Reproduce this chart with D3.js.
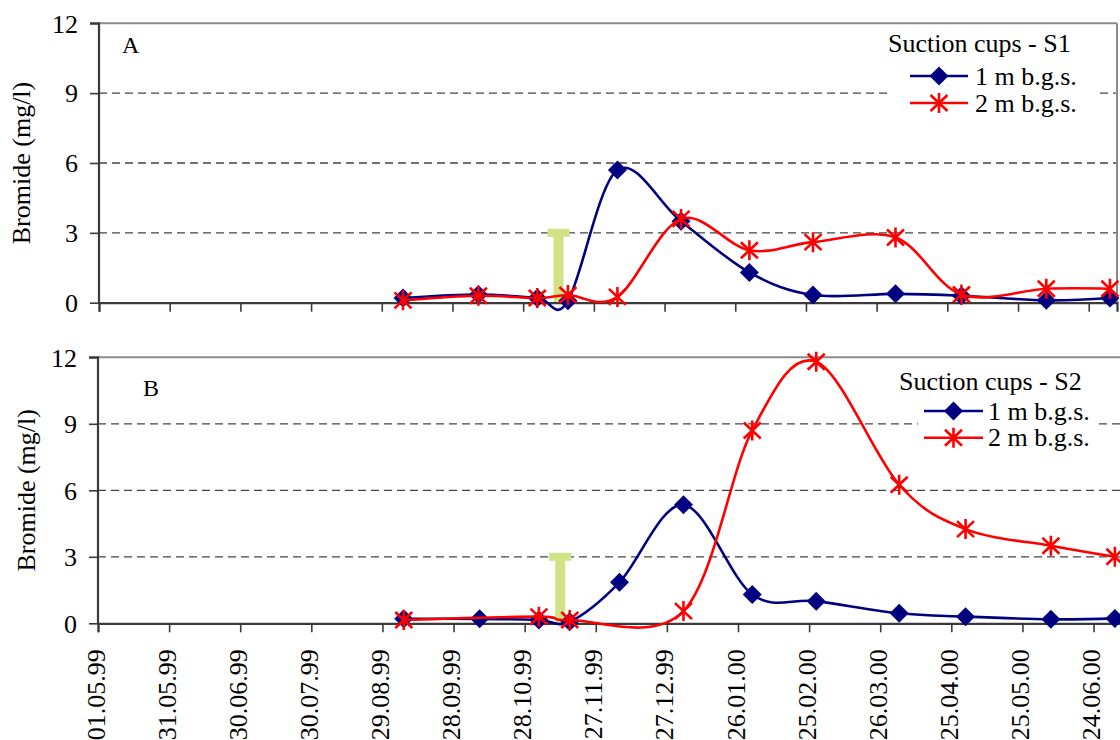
<!DOCTYPE html>
<html>
<head>
<meta charset="utf-8">
<script src="https://cdn.jsdelivr.net/npm/d3@7/dist/d3.min.js"></script>
<style>
  html, body { margin: 0; padding: 0; background: #fff; }
  svg { display: block; }
  svg text { font-family: "Liberation Serif", "Times New Roman", serif; fill: #000; }
</style>
</head>
<body>
<svg id="chart" width="1120" height="740"></svg>
<script>
// Sampling campaign dates (dd.mm.yy) shared by both suction-cup stations
const sampleDates = ["07.09.99", "09.10.99", "03.11.99", "16.11.99", "07.12.99", "03.01.00",
                     "01.02.00", "28.02.00", "03.04.00", "01.05.00", "06.06.00", "03.07.00"];

// Station S1 bromide concentrations (mg/l)
const s1Depth1m = [0.2, 0.35, 0.2, 0.08, 5.7, 3.5, 1.3, 0.33, 0.38, 0.3, 0.1, 0.2];
const s1Depth2m = [0.1, 0.3, 0.2, 0.33, 0.25, 3.6, 2.25, 2.6, 2.8, 0.35, 0.6, 0.6];

// Station S2 bromide concentrations (mg/l); null = no sample taken
const s2Depth1m = [0.2, 0.2, 0.15, 0.07, 1.85, 5.35, 1.3, 1.0, 0.45, 0.3, 0.18, 0.22];
const s2Depth2m = [0.15, null, 0.3, 0.15, null, 0.55, 8.7, 11.8, 6.25, 4.25, 3.5, 3.0];

// Tracer application: date and marker height (mg/l)
const applicationDate = "12.11.99";
const applicationHeight = 3;

// Axis ticks
const xTickLabels = ["01.05.99", "31.05.99", "30.06.99", "30.07.99", "29.08.99", "28.09.99",
                     "28.10.99", "27.11.99", "27.12.99", "26.01.00", "25.02.00", "26.03.00",
                     "25.04.00", "25.05.00", "24.06.00"];
const yTickValues = [0, 3, 6, 9, 12];
const seriesNames = ["1 m b.g.s.", "2 m b.g.s."];

const parse = d3.utcParse("%d.%m.%y");
const fmt = d3.utcFormat("%d.%m.%y");
const domainStart = parse(xTickLabels[0]);
const domainEnd = d3.utcDay.offset(domainStart, 432);

const BLUE = "#000080", RED = "#ff0000", GREEN = "#cfe384";
const svg = d3.select("#chart");

function drawMarker(g, kind, color) {
  if (kind === "diamond") {
    const r = 9.5;
    g.append("path").attr("d", `M0,${-r}L${r},0L0,${r}L${-r},0Z`).attr("fill", color);
  } else {
    g.append("path")
      .attr("d", "M0,-10V10M-8.5,-8L8.5,8M-8.5,8L8.5,-8")
      .attr("stroke", color).attr("stroke-width", 2.6).attr("fill", "none");
  }
}

function drawPanel(cfg) {
  const g = svg.append("g");
  const x = d3.scaleUtc().domain([domainStart, domainEnd]).range([cfg.left, cfg.right]);
  const y = d3.scaleLinear().domain([0, 12]).range([cfg.bottom, cfg.top]);

  // dashed gridlines
  g.append("g").selectAll("line").data([3, 6, 9]).join("line")
    .attr("x1", cfg.left).attr("x2", cfg.right)
    .attr("y1", d => y(d)).attr("y2", d => y(d))
    .attr("stroke", "#444").attr("stroke-width", 1.3).attr("stroke-dasharray", "8,5");

  // plot-area frame (top and right)
  g.append("line").attr("x1", cfg.left).attr("x2", cfg.right)
    .attr("y1", y(12)).attr("y2", y(12)).attr("stroke", "#8a8a8a").attr("stroke-width", 2);
  g.append("line").attr("x1", cfg.right).attr("x2", cfg.right)
    .attr("y1", y(12)).attr("y2", y(0)).attr("stroke", "#8a8a8a").attr("stroke-width", 2);

  // tracer application marker
  const ax = x(parse(applicationDate));
  g.append("rect").attr("x", ax - 5).attr("width", 10)
    .attr("y", y(applicationHeight)).attr("height", y(0) - y(applicationHeight))
    .attr("fill", GREEN);
  g.append("rect").attr("x", ax - 11).attr("width", 22)
    .attr("y", y(applicationHeight) - 4).attr("height", 8)
    .attr("fill", GREEN);

  // axes
  const yAxis = d3.axisLeft(y).tickValues(yTickValues).tickSize(9).tickPadding(12)
    .tickFormat(d3.format("d"));
  const yg = g.append("g").attr("transform", `translate(${cfg.left},0)`).call(yAxis);
  const xAxis = d3.axisBottom(x).tickValues(xTickLabels.map(parse)).tickSize(9)
    .tickFormat(fmt);
  const xg = g.append("g").attr("transform", `translate(0,${cfg.bottom})`).call(xAxis);

  [yg, xg].forEach(a => {
    a.attr("font-family", null);
    a.select(".domain").attr("stroke", "#3a3a3a").attr("stroke-width", 2.2);
    a.selectAll(".tick line").attr("stroke", "#3a3a3a").attr("stroke-width", 1.6);
  });
  yg.select(".domain").attr("d", `M-9,${y(12)}H0V${y(0)}`);
  yg.selectAll(".tick text").attr("font-size", 26).attr("dy", "0.34em");

  if (cfg.showXLabels) {
    xg.selectAll(".tick text")
      .attr("font-size", 26)
      .attr("text-anchor", "end")
      .attr("transform", "translate(0,26) rotate(-90)")
      .attr("x", 0).attr("y", 6).attr("dy", "0");
  } else {
    xg.selectAll(".tick text").remove();
  }

  // y-axis title
  g.append("text")
    .attr("transform", `translate(${cfg.titleX},${(cfg.top + cfg.bottom) / 2}) rotate(-90)`)
    .attr("text-anchor", "middle").attr("font-size", 26).text("Bromide (mg/l)");

  // panel letter
  g.append("text").attr("x", cfg.labelX).attr("y", cfg.labelY)
    .attr("font-size", 24).text(cfg.label);

  // series: smoothed lines with markers (missing samples are skipped)
  const line = d3.line().curve(d3.curveCardinal.tension(0))
    .x(d => x(d.date)).y(d => y(d.value));
  cfg.series.forEach(s => {
    const pts = sampleDates.map((d, i) => ({ date: parse(d), value: s.values[i] }))
      .filter(p => p.value != null);
    g.append("path").datum(pts).attr("d", line)
      .attr("fill", "none").attr("stroke", s.color).attr("stroke-width", 2.6);
    pts.forEach(p => {
      const m = g.append("g").attr("transform", `translate(${x(p.date)},${y(p.value)})`);
      drawMarker(m, s.marker, s.color);
    });
  });

  // legend
  const L = cfg.legend;
  g.append("rect").attr("x", L.boxX).attr("y", L.boxY).attr("width", L.boxW).attr("height", L.boxH)
    .attr("fill", "#fff");
  g.append("text").attr("x", L.titleX).attr("y", L.titleY).attr("font-size", 26).text(L.title);
  cfg.series.forEach((s, i) => {
    const ry = L.rowY[i];
    g.append("line").attr("x1", L.lineX0).attr("x2", L.lineX1).attr("y1", ry).attr("y2", ry)
      .attr("stroke", s.color).attr("stroke-width", 2.6);
    drawMarker(g.append("g").attr("transform", `translate(${(L.lineX0 + L.lineX1) / 2},${ry})`),
      s.marker, s.color);
    g.append("text").attr("x", L.textX).attr("y", ry).attr("dy", "0.33em")
      .attr("font-size", 26).text(seriesNames[i]);
  });
}

drawPanel({
  left: 99, right: 1117, top: 23.3, bottom: 302.7,
  showXLabels: false, titleX: 30, label: "A", labelX: 122, labelY: 53,
  series: [
    { values: s1Depth1m, color: BLUE, marker: "diamond" },
    { values: s1Depth2m, color: RED, marker: "star" }
  ],
  legend: { title: "Suction cups - S1", titleX: 888, titleY: 52,
            boxX: 891, boxY: 28, boxW: 208, boxH: 88,
            rowY: [76, 103], lineX0: 910, lineX1: 968, textX: 975 }
});

drawPanel({
  left: 98, right: 1122, top: 357.3, bottom: 623.3,
  showXLabels: true, titleX: 35, label: "B", labelX: 143, labelY: 396,
  series: [
    { values: s2Depth1m, color: BLUE, marker: "diamond" },
    { values: s2Depth2m, color: RED, marker: "star" }
  ],
  legend: { title: "Suction cups - S2", titleX: 899, titleY: 390,
            boxX: 918, boxY: 400, boxW: 180, boxH: 50,
            rowY: [411, 437.7], lineX0: 924, lineX1: 983, textX: 988 }
});
</script>
</body>
</html>
